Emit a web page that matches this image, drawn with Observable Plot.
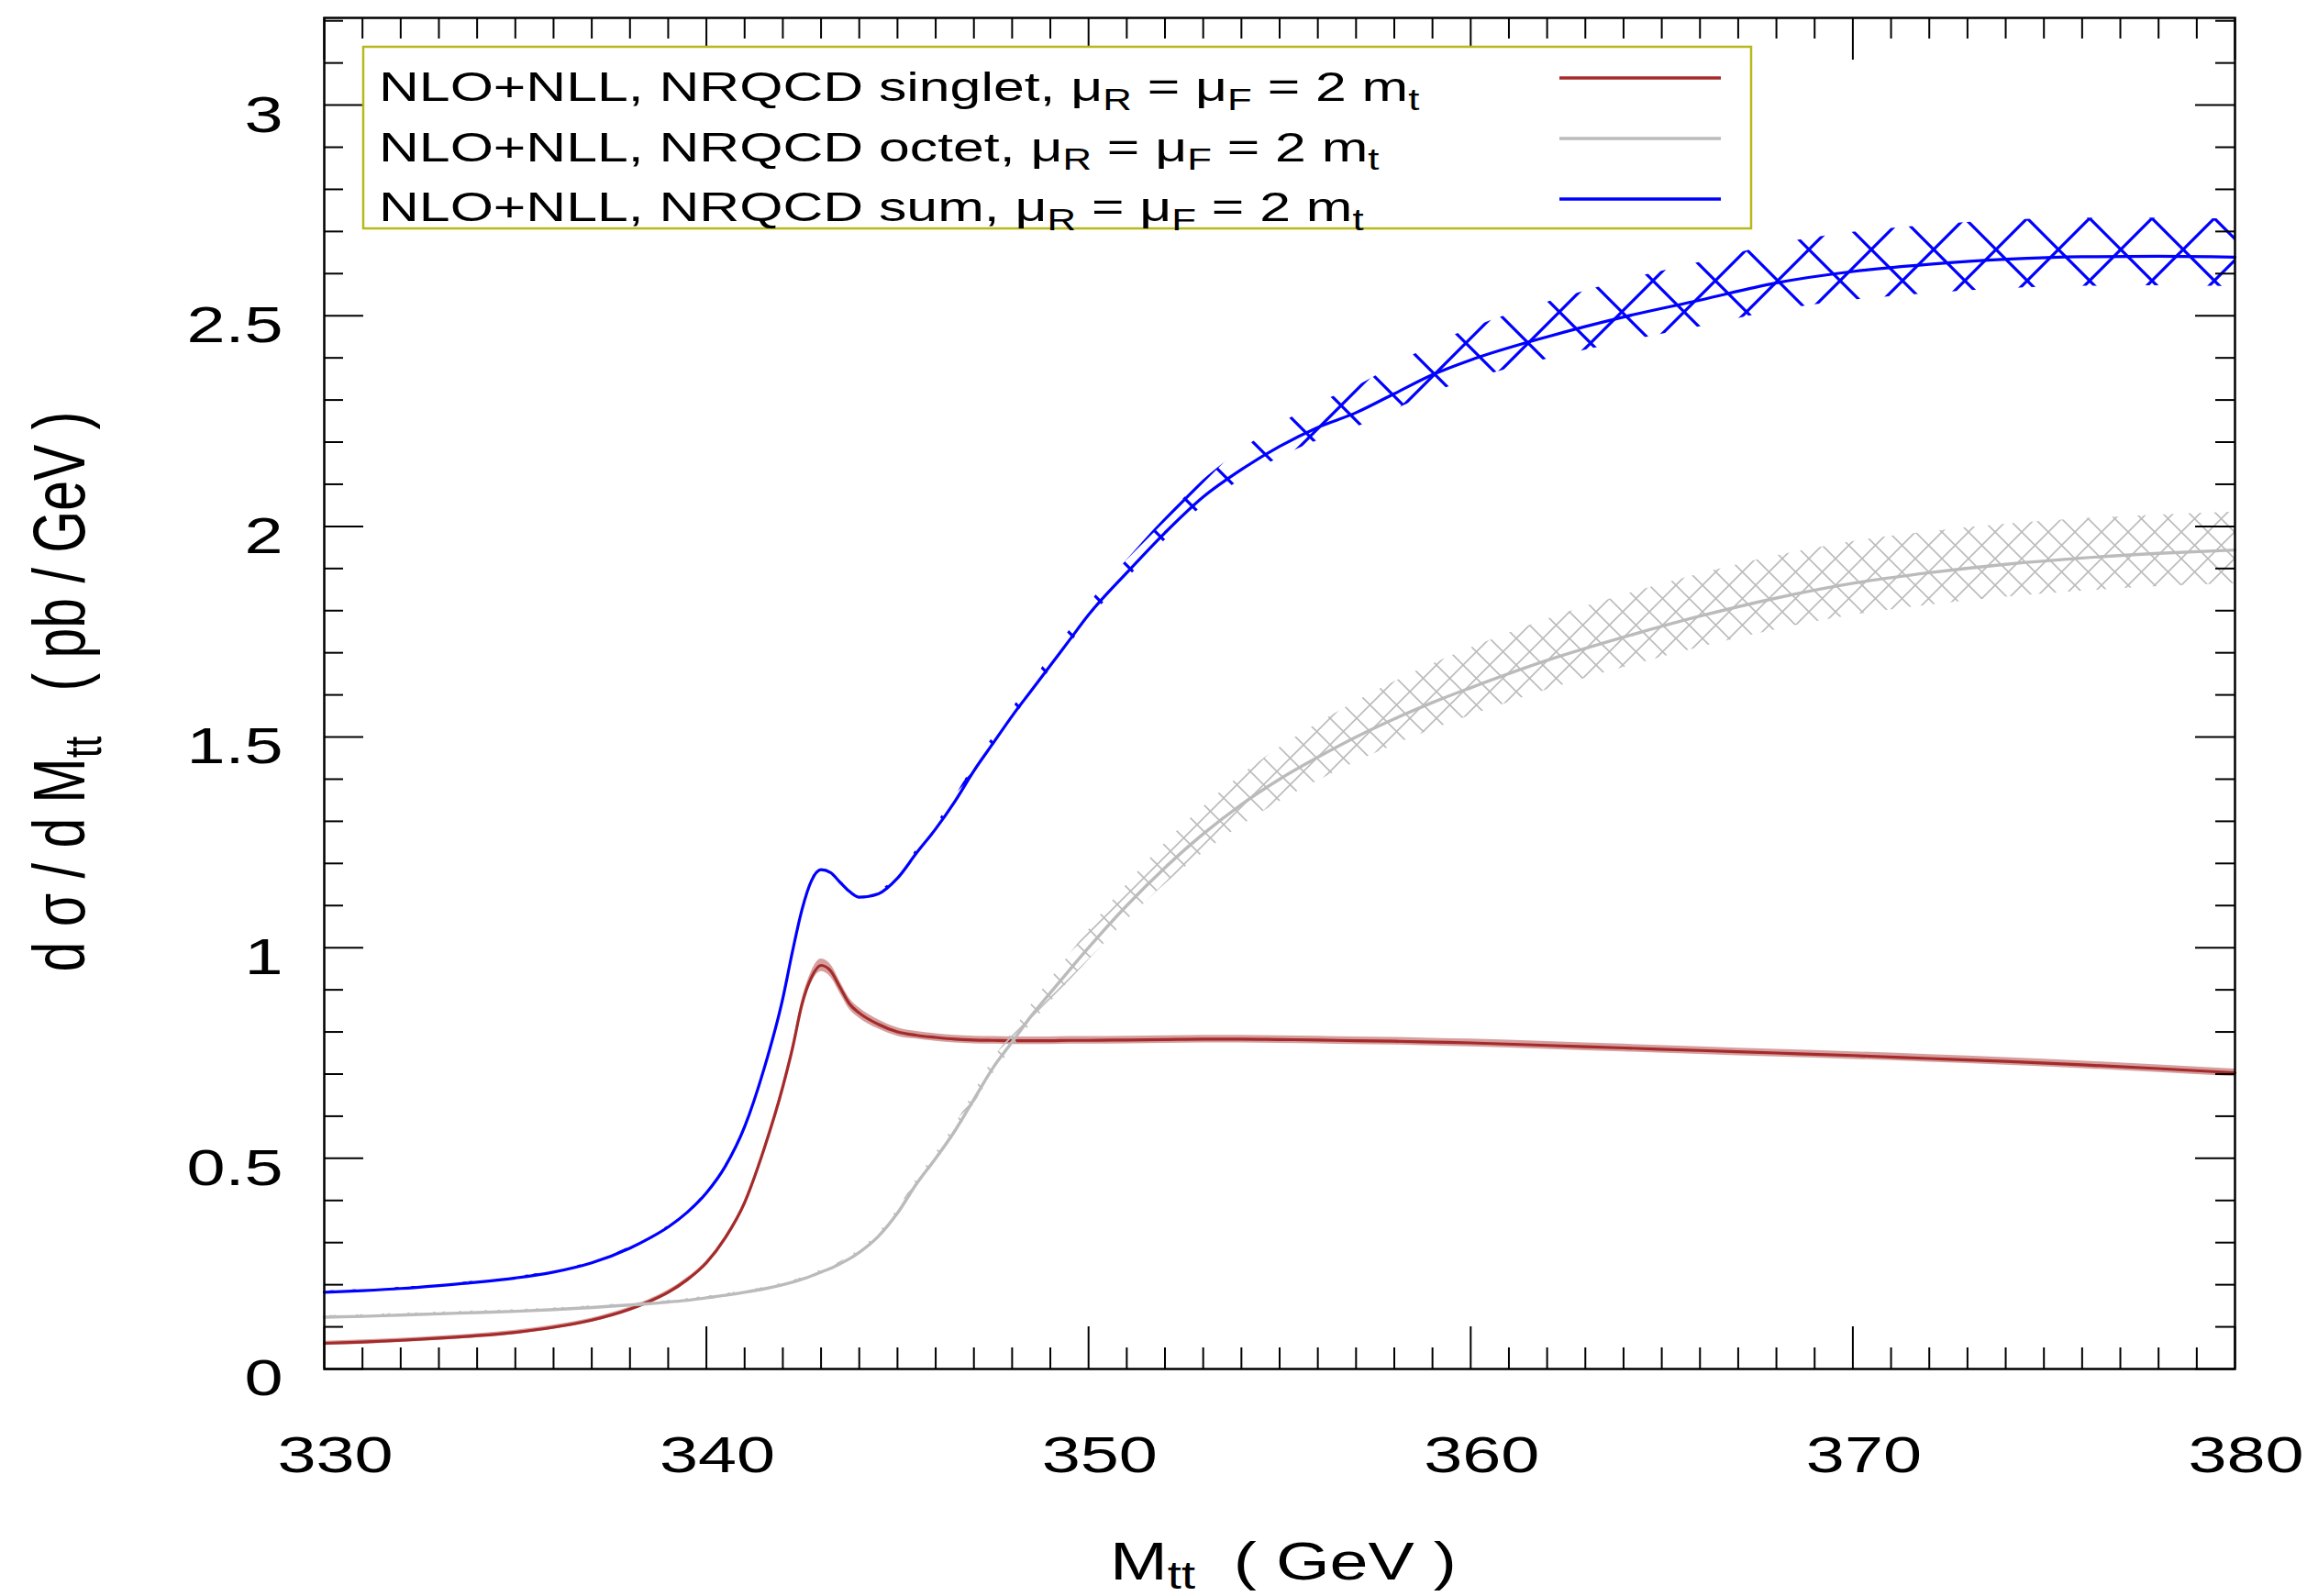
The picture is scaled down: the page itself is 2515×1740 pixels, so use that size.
<!DOCTYPE html>
<html>
<head>
<meta charset="utf-8">
<script src="https://cdn.jsdelivr.net/npm/d3@7"></script>
<script src="https://cdn.jsdelivr.net/npm/@observablehq/plot@0.6"></script>
<style>
html,body{margin:0;padding:0;background:#fff;}
#chart svg{display:block;}
</style>
</head>
<body>
<div id="chart"></div>
<script>
// ---------- data ----------
const mass = [330,331,332,333,334,335,336,337,338,338.5,339,339.5,340,340.5,341,341.5,342,
  342.25,342.5,342.75,343,343.25,343.5,343.75,344,
  344.5,345,345.5,346,346.5,347,347.5,348,348.5,349,349.5,350,
  351,352,353,354,355,356,357,358,359,360,
  362,364,366,368,370,372,374,376,378,380];

const sumV = [0.182,0.186,0.191,0.198,0.206,0.216,0.23,0.252,0.287,0.31,0.337,0.372,0.418,0.482,0.575,0.71,0.88,
  0.99,1.09,1.159,1.185,1.178,1.155,1.133,1.12,
  1.128,1.165,1.225,1.282,1.347,1.42,1.485,1.55,1.61,1.67,1.73,1.79,
  1.89,1.985,2.07,2.135,2.19,2.235,2.27,2.315,2.36,2.395,
  2.45,2.497,2.537,2.578,2.605,2.622,2.634,2.64,2.641,2.639];
const sumUp = [0.003,0.003,0.003,0.003,0.003,0.003,0.003,0.003,0.003,0.003,0.003,0.003,0.003,0.003,0.003,0.003,0.003,
  0.003,0.003,0.003,0.003,0.003,0.003,0.003,0.004,
  0.006,0.007,0.008,0.01,0.011,0.013,0.015,0.017,0.019,0.021,0.023,0.025,
  0.03,0.035,0.04,0.046,0.052,0.057,0.062,0.067,0.071,0.075,
  0.082,0.087,0.09,0.092,0.093,0.093,0.093,0.092,0.091,0.09];
const sumDn = [0.003,0.003,0.003,0.003,0.003,0.003,0.003,0.003,0.003,0.003,0.003,0.003,0.003,0.003,0.003,0.003,0.003,
  0.003,0.003,0.003,0.003,0.003,0.003,0.003,0.003,
  0.004,0.005,0.005,0.006,0.006,0.007,0.007,0.008,0.009,0.01,0.011,0.012,
  0.015,0.018,0.021,0.024,0.027,0.031,0.035,0.039,0.043,0.047,
  0.053,0.059,0.063,0.066,0.068,0.069,0.07,0.07,0.07,0.07];

const singletV = [0.061,0.064,0.068,0.073,0.079,0.087,0.099,0.116,0.142,0.16,0.182,0.212,0.252,0.312,0.395,0.52,0.67,
  0.76,0.865,0.93,0.958,0.945,0.905,0.866,0.845,
  0.818,0.8,0.792,0.787,0.783,0.781,0.78,0.779,0.779,0.779,0.78,0.78,
  0.781,0.782,0.783,0.783,0.782,0.781,0.779,0.778,0.776,0.774,
  0.768,0.762,0.756,0.75,0.744,0.737,0.73,0.722,0.713,0.703];
const singletHalf = [0.005,0.005,0.005,0.005,0.005,0.005,0.005,0.005,0.005,0.005,0.005,0.005,0.005,0.005,0.005,0.005,0.008,
  0.01,0.012,0.014,0.015,0.015,0.014,0.013,0.012,
  0.011,0.01,0.009,0.009,0.009,0.009,0.009,0.009,0.009,0.009,0.009,0.009,
  0.009,0.009,0.009,0.009,0.009,0.009,0.009,0.009,0.009,0.009,
  0.009,0.009,0.009,0.009,0.009,0.009,0.009,0.009,0.009,0.009];

const octetV = [0.123,0.125,0.128,0.131,0.134,0.137,0.141,0.146,0.152,0.155,0.159,0.163,0.169,0.175,0.182,0.19,0.2,
  0.206,0.213,0.221,0.23,0.239,0.25,0.262,0.277,
  0.315,0.37,0.44,0.5,0.565,0.64,0.715,0.776,0.838,0.893,0.947,1.0,
  1.1,1.19,1.27,1.34,1.4,1.452,1.5,1.543,1.582,1.617,
  1.682,1.737,1.787,1.83,1.865,1.89,1.91,1.925,1.936,1.944];
const octetUp = [0.004,0.004,0.004,0.004,0.004,0.004,0.004,0.004,0.004,0.004,0.004,0.004,0.004,0.004,0.004,0.004,0.004,
  0.004,0.004,0.005,0.005,0.005,0.005,0.006,0.006,
  0.008,0.009,0.01,0.012,0.014,0.016,0.019,0.022,0.026,0.031,0.036,0.042,
  0.05,0.058,0.064,0.07,0.075,0.08,0.084,0.088,0.091,0.094,
  0.098,0.1,0.1,0.1,0.099,0.097,0.095,0.093,0.091,0.09];
const octetDn = [0.004,0.004,0.004,0.004,0.004,0.004,0.004,0.004,0.004,0.004,0.004,0.004,0.004,0.004,0.004,0.004,0.004,
  0.004,0.004,0.004,0.004,0.004,0.004,0.004,0.005,
  0.006,0.007,0.008,0.009,0.01,0.012,0.014,0.016,0.019,0.022,0.026,0.03,
  0.035,0.04,0.045,0.05,0.053,0.056,0.059,0.062,0.064,0.066,
  0.07,0.072,0.074,0.075,0.076,0.077,0.078,0.079,0.079,0.08];

const xMajor = [330, 340, 350, 360, 370, 380];
const yMajor = [0, 0.5, 1, 1.5, 2, 2.5, 3];
const xMinor = d3.range(331, 380, 1).filter(v => v % 10 !== 0);
const yMinor = d3.range(1, 33).map(i => i / 10).filter(v => Math.round(v * 10) % 5 !== 0);

const legendNames = ["singlet", "octet", "sum"];
const legendColors = ["#a52a2a", "#bbbbbb", "#0000ff"];

// ---------- layout ----------
const W = 2515, H = 1740;
const mL = 353, mR = 79, mT = 19, mB = 248;
const FW = W - mL - mR, FH = H - mT - mB;
const FONT = "'Liberation Sans', Arial, Helvetica, sans-serif";
const K = 1.35; // horizontal stretch of the reference's lettering

const rows = mass.map((m, i) => ({
  m,
  sum: sumV[i], sumLo: sumV[i] - sumDn[i], sumHi: sumV[i] + sumUp[i],
  sin: singletV[i], sinLo: singletV[i] - singletHalf[i], sinHi: singletV[i] + singletHalf[i],
  oct: octetV[i], octLo: octetV[i] - octetDn[i], octHi: octetV[i] + octetUp[i]
}));

const curve = "monotone-x";
const svg = Plot.plot({
  width: W, height: H,
  marginLeft: mL, marginRight: mR, marginTop: mT, marginBottom: mB,
  x: {domain: [330, 380], label: null},
  y: {domain: [0, 3.207], label: null},
  style: {fontFamily: FONT, background: "white", color: "black"},
  marks: [
    Plot.areaY(rows, {x: "m", y1: "sinLo", y2: "sinHi", fill: legendColors[0], fillOpacity: 0.45, curve}),
    Plot.line(rows, {x: "m", y: "sin", stroke: legendColors[0], strokeWidth: 3.2, curve}),
    Plot.areaY(rows, {x: "m", y1: "octLo", y2: "octHi", fill: "url(#grayHatch)", curve}),
    Plot.line(rows, {x: "m", y: "oct", stroke: legendColors[1], strokeWidth: 3.4, curve}),
    Plot.areaY(rows, {x: "m", y1: "sumLo", y2: "sumHi", fill: "url(#blueHatch)", curve}),
    Plot.line(rows, {x: "m", y: "sum", stroke: legendColors[2], strokeWidth: 3.2, curve}),
    // inward ticks on all four sides
    Plot.tickX(xMajor, {x: d => d, insetTop: FH - 46, stroke: "black", strokeWidth: 2}),
    Plot.tickX(xMajor, {x: d => d, insetBottom: FH - 46, stroke: "black", strokeWidth: 2}),
    Plot.tickX(xMinor, {x: d => d, insetTop: FH - 23, stroke: "black", strokeWidth: 2}),
    Plot.tickX(xMinor, {x: d => d, insetBottom: FH - 23, stroke: "black", strokeWidth: 2}),
    Plot.tickY(yMajor, {y: d => d, insetRight: FW - 43, stroke: "black", strokeWidth: 2}),
    Plot.tickY(yMajor, {y: d => d, insetLeft: FW - 43, stroke: "black", strokeWidth: 2}),
    Plot.tickY(yMinor, {y: d => d, insetRight: FW - 21, stroke: "black", strokeWidth: 2}),
    Plot.tickY(yMinor, {y: d => d, insetLeft: FW - 21, stroke: "black", strokeWidth: 2}),
    Plot.frame({stroke: "black", strokeWidth: 2.5}),
    Plot.axisX({ticks: xMajor, tickSize: 0, tickPadding: 73, fontSize: 56, dx: 12, tickFormat: d => String(d), label: null}),
    Plot.axisY({ticks: yMajor, tickSize: 0, tickPadding: 45, fontSize: 56, dy: 11, tickFormat: d => String(d), label: null})
  ]
});

// stretch tick labels horizontally like the reference
d3.select(svg).selectAll("text").each(function () {
  const t = this.getAttribute("transform");
  if (t) this.setAttribute("transform", t + ` scale(${K},1)`);
});

// hatch patterns
const defs = d3.select(svg).insert("defs", ":first-child");
function hatch(id, size, color, width) {
  const p = defs.append("pattern").attr("id", id).attr("patternUnits", "userSpaceOnUse")
    .attr("width", size).attr("height", size);
  p.append("path")
    .attr("d", `M${-size},${-size}L${2 * size},${2 * size}M${2 * size},${-size}L${-size},${2 * size}`)
    .attr("stroke", color).attr("stroke-width", width).attr("fill", "none");
}
hatch("blueHatch", 68, "#0000ff", 3.2);
hatch("grayHatch", 29, "#bdbdbd", 1.7);

// rich text helper (subscripts)
function rich(parent, parts, size, anchor, subShift) {
  const sh = size * (subShift == null ? 0.22 : subShift);
  const t = parent.append("text").attr("font-size", size).attr("fill", "black")
    .attr("font-family", FONT).attr("text-anchor", anchor || "start");
  let shift = 0;
  parts.forEach(p => {
    const sub = Array.isArray(p);
    const ts = t.append("tspan").text(sub ? p[0] : p);
    if (sub) { ts.attr("font-size", size * 0.72).attr("dy", sh); shift = sh; }
    else if (shift) { ts.attr("dy", -shift); shift = 0; }
  });
  return t;
}

const root = d3.select(svg);

// legend
const lg = root.append("g");
lg.append("rect").attr("x", 396).attr("y", 51).attr("width", 1513).attr("height", 198)
  .attr("fill", "white").attr("stroke", "#b8b81c").attr("stroke-width", 2.5);
legendNames.forEach((name, i) => {
  const yb = 110 + i * 65.5;
  const g = lg.append("g").attr("transform", `translate(413,${yb}) scale(${K},1)`);
  rich(g, [`NLO+NLL, NRQCD ${name}, \u03bc`, ["R"], " = \u03bc", ["F"], " = 2 m", ["t"]], 45, "start");
  lg.append("line").attr("x1", 1700).attr("x2", 1876).attr("y1", 85 + i * 66).attr("y2", 85 + i * 66)
    .attr("stroke", legendColors[i]).attr("stroke-width", 3.5);
});

// axis titles
const xt = root.append("g").attr("transform", `translate(1210,1722) scale(1.3,1)`);
rich(xt, ["M", ["tt"], "\u00a0\u00a0( GeV )"], 58, "start", 0.17);
const yt = root.append("g").attr("transform", `translate(92,754) rotate(-90) scale(1,${K})`);
rich(yt, ["d \u03c3 / d M", ["tt"], "\u00a0\u00a0\u00a0( pb / GeV )"], 59, "middle");

document.getElementById("chart").appendChild(svg);
</script>
</body>
</html>
